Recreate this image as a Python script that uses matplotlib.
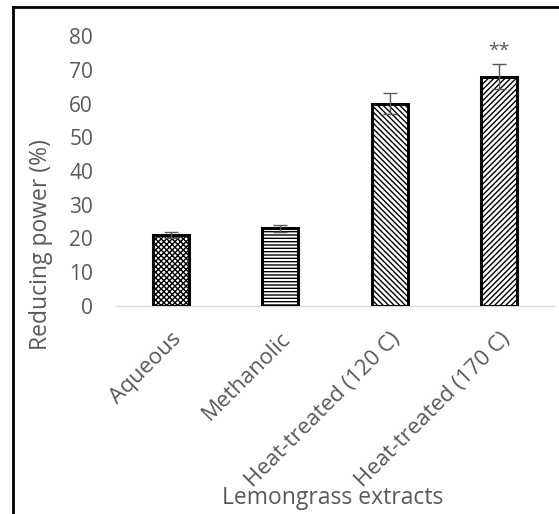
import numpy as np
import matplotlib.pyplot as plt
from matplotlib.lines import Line2D

plt.rcParams['font.family'] = ['Open Sans', 'DejaVu Sans']
plt.rcParams['hatch.linewidth'] = 1.0

extracts = ["Aqueous", "Methanolic", "Heat-treated (120 C)", "Heat-treated (170 C)"]
reducing_power = [21.0, 23.0, 60.0, 68.0]
sd = [0.8, 1.1, 3.2, 3.6]
hatches = ["xxxxxx", "-----", "\\\\\\\\\\\\", "//////"]
signif = ["", "", "", "**"]

grey = "#595959"

fig = plt.figure(figsize=(5.59, 5.14), dpi=100)
ax = fig.add_axes([116 / 559, 1 - 306 / 514, 438 / 559, 270 / 514])

x = np.arange(len(extracts))
width = 0.33

# hatched fill first, then the black outline on top
for xi, val, h in zip(x, reducing_power, hatches):
    ax.bar(xi, val, width, color="white", edgecolor="black", linewidth=0, hatch=h, zorder=2)
ax.bar(x, reducing_power, width, fill=False, edgecolor="black", linewidth=2.2, zorder=3)

ax.errorbar(x, reducing_power, yerr=sd, fmt="none", ecolor=grey, elinewidth=1.0,
            capsize=5, capthick=1.0, zorder=4)

for xi, val, e, s in zip(x, reducing_power, sd, signif):
    if s:
        ax.annotate(s, (xi, val + e), xytext=(0, 10), textcoords="offset points",
                    ha="center", va="center", color=grey, fontsize=14)

ax.set_ylim(0, 80)
ax.set_xlim(-0.5, len(extracts) - 0.5)
ax.set_yticks(range(0, 81, 10))
ax.set_xticks(x)
ax.set_xticklabels(extracts, rotation=45, ha="right", rotation_mode="anchor", fontsize=16)
ax.tick_params(axis="y", length=0, labelsize=15, labelcolor=grey, pad=16.5)
ax.tick_params(axis="x", length=0, labelcolor=grey, pad=16)

for side in ["top", "right", "left"]:
    ax.spines[side].set_visible(False)
ax.spines["bottom"].set_color("#d9d9d9")
ax.spines["bottom"].set_linewidth(1.0)

ax.set_ylabel("Reducing power (%)", fontsize=16.5, color=grey, va="center")
ax.yaxis.set_label_coords(-0.171, 0.226)
ax.set_xlabel("Lemongrass extracts", fontsize=16.5, color=grey, va="center")
ax.xaxis.set_label_coords(0.495, -0.712)

# frame around the figure (top and left edges)
fig.add_artist(Line2D([13 / 559, 1], [1 - 7 / 514, 1 - 7 / 514], color="black", lw=2,
                      transform=fig.transFigure))
fig.add_artist(Line2D([13 / 559, 13 / 559], [0, 1 - 7 / 514], color="black", lw=2,
                      transform=fig.transFigure))

fig.savefig("out.png", dpi=100)
